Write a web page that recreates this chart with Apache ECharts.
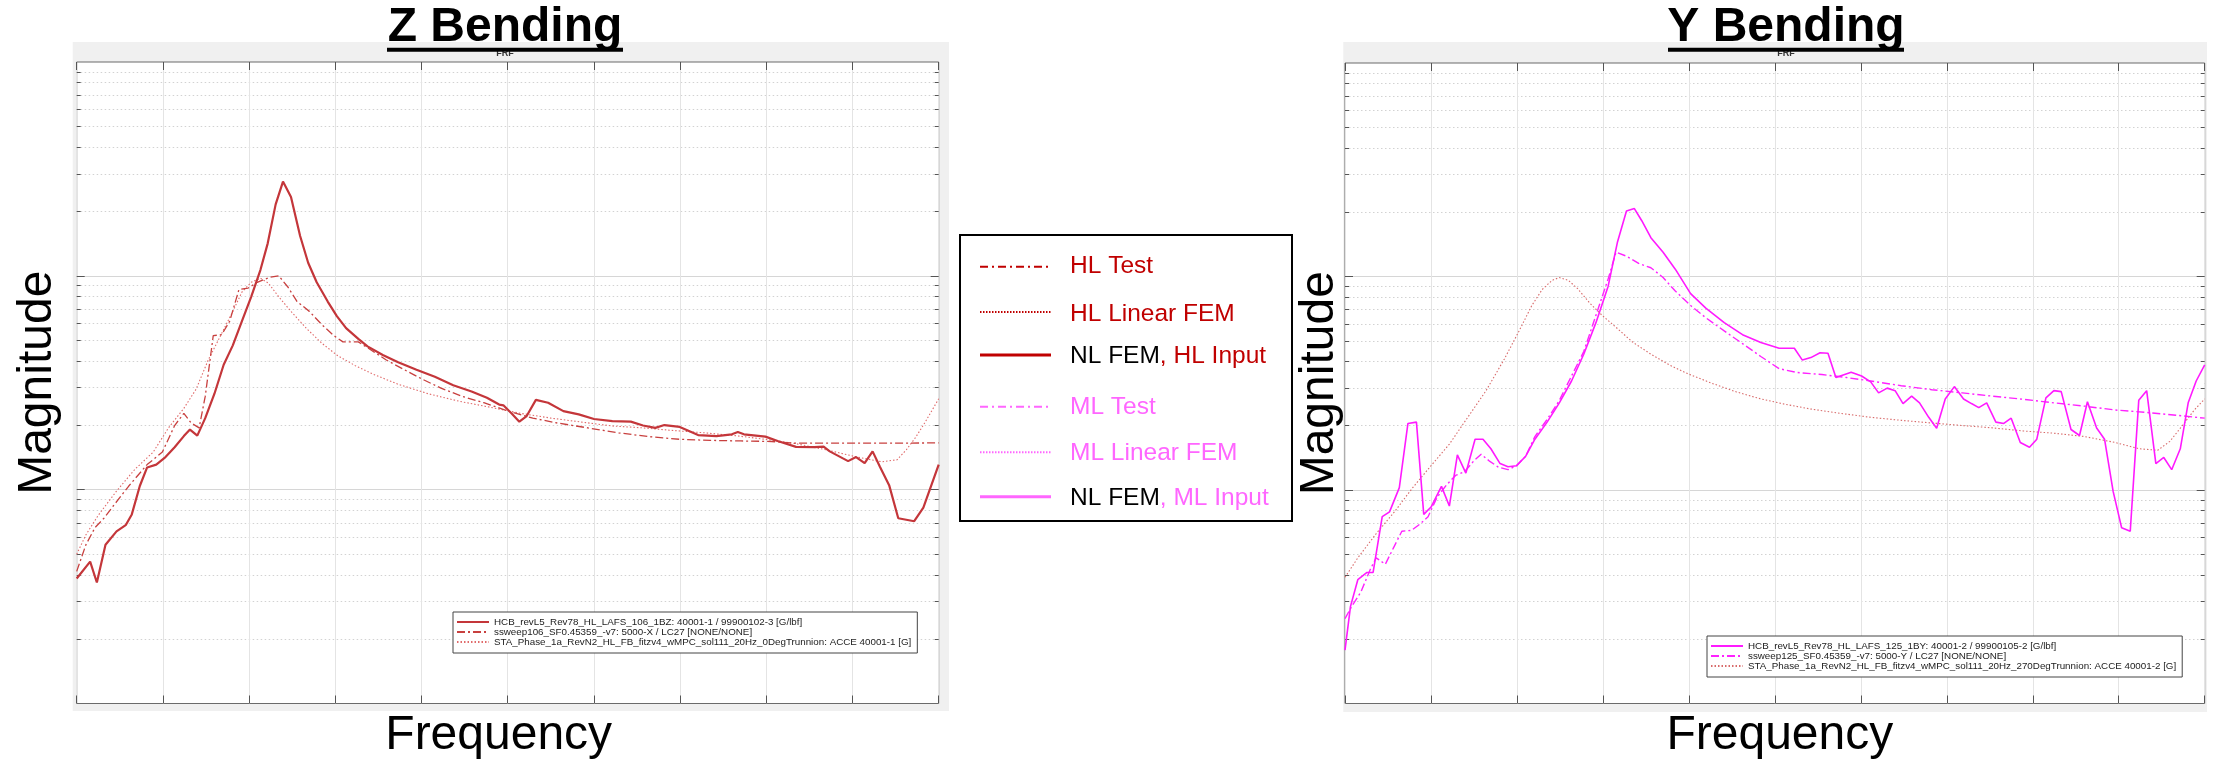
<!DOCTYPE html>
<html>
<head>
<meta charset="utf-8">
<title>Z / Y Bending FRF</title>
<script src="https://cdn.jsdelivr.net/npm/echarts@6/dist/echarts.min.js"></script>
<style>
  html, body { margin: 0; padding: 0; background: #ffffff; }
  #chart { width: 2218px; height: 765px; }
</style>
</head>
<body>
<div id="chart"></div>
<script>
// ---- Text ----
const panelTitles = ['Z Bending', 'Y Bending'];
const panelSubtitle = 'FRF';
const xAxisName = 'Frequency';
const yAxisName = 'Magnitude';

const zSeriesNames = [
  'HCB_revL5_Rev78_HL_LAFS_106_1BZ: 40001-1 / 99900102-3 [G/lbf]',
  'ssweep106_SF0.45359_-v7: 5000-X / LC27 [NONE/NONE]',
  'STA_Phase_1a_RevN2_HL_FB_fitzv4_wMPC_sol111_20Hz_0DegTrunnion: ACCE 40001-1 [G]'
];
const ySeriesNames = [
  'HCB_revL5_Rev78_HL_LAFS_125_1BY: 40001-2 / 99900105-2 [G/lbf]',
  'ssweep125_SF0.45359_-v7: 5000-Y / LC27 [NONE/NONE]',
  'STA_Phase_1a_RevN2_HL_FB_fitzv4_wMPC_sol111_20Hz_270DegTrunnion: ACCE 40001-2 [G]'
];

// shared key between the two panels
const keyLabels = ['HL Test', 'HL Linear FEM', 'HL Input', 'ML Test', 'ML Linear FEM', 'ML Input'];
const keyPrefix = 'NL FEM';

// ---- Axes ----
const freqRange = [0, 100];
const freqStep = 10;
const magRange = [0.01, 10];
const magMajorTicks = [0.1, 1];
const magMinorTicks = [
  0.02, 0.03, 0.04, 0.05, 0.06, 0.07, 0.08, 0.09,
  0.2, 0.3, 0.4, 0.5, 0.6, 0.7, 0.8, 0.9,
  2, 3, 4, 5, 6, 7, 8, 9
];

// ---- Z bending: [frequency, magnitude] ----
const zNlFemHl = [[0,0.0384],[1.56,0.0461],[2.34,0.0368],[3.34,0.0553],[4.62,0.0638],[5.68,0.0682],[6.39,0.0766],[7.32,0.104],[8.17,0.127],[9.23,0.131],[10.3,0.142],[11.36,0.158],[12.43,0.178],[13.14,0.191],[13.99,0.179],[14.91,0.216],[15.98,0.281],[17.05,0.384],[18.11,0.473],[19.18,0.615],[20.24,0.798],[21.31,1.064],[22.16,1.419],[23.08,2.158],[23.93,2.759],[24.86,2.336],[25.92,1.536],[26.85,1.151],[27.84,0.933],[29.12,0.758],[30.18,0.648],[31.25,0.569],[32.67,0.507],[33.74,0.468],[35.51,0.426],[37.29,0.394],[39.42,0.364],[41.55,0.337],[43.68,0.308],[45.81,0.288],[47.59,0.269],[49.01,0.25],[49.5,0.248],[50.43,0.2275],[51.35,0.208],[52.2,0.221],[53.27,0.263],[54.69,0.255],[56.46,0.233],[58.24,0.225],[60.01,0.214],[62.14,0.209],[64.28,0.208],[65.7,0.1995],[67.12,0.1945],[68.18,0.2005],[69.96,0.1965],[72.09,0.18],[74.22,0.178],[76,0.1815],[76.7,0.186],[77.41,0.1815],[79.9,0.177],[81.32,0.169],[83.45,0.1585],[85.58,0.158],[86.65,0.159],[87.36,0.151],[89.49,0.136],[90.41,0.142],[91.41,0.133],[92.33,0.151],[93.18,0.128],[94.25,0.105],[95.31,0.0735],[97.16,0.0712],[98.22,0.0824],[100,0.131]];
const zTestHl = [[0,0.0415],[1.07,0.0553],[2.13,0.0665],[3.2,0.0738],[4.26,0.0841],[6.04,0.104],[8.17,0.131],[9.94,0.15],[11.36,0.1995],[12.43,0.2275],[13.28,0.205],[14.2,0.1945],[14.91,0.273],[15.84,0.525],[16.83,0.531],[17.76,0.615],[18.82,0.863],[19.89,0.877],[20.95,0.933],[22.37,0.984],[23.44,1.0],[24.5,0.887],[25.57,0.758],[26.99,0.682],[28.41,0.593],[29.83,0.525],[30.89,0.491],[32.67,0.491],[33.74,0.461],[35.87,0.405],[38,0.364],[40.13,0.328],[42.26,0.2985],[44.74,0.273],[47.23,0.255],[50.07,0.233],[52.91,0.216],[55.75,0.205],[59.3,0.1945],[62.86,0.1845],[66.41,0.177],[69.96,0.172],[73.51,0.17],[77.06,0.169],[80.61,0.168],[83.45,0.165],[87,0.165],[91,0.165],[95,0.165],[100,0.1655]];
const zLinFemHl = [[0,0.0499],[1.07,0.0615],[2.49,0.0758],[4.62,0.0985],[6.75,0.1245],[8.88,0.15],[10.65,0.1945],[12.43,0.24],[13.85,0.295],[15.27,0.405],[16.69,0.525],[18.11,0.682],[19.18,0.841],[20.24,0.933],[21.31,0.975],[22.23,0.925],[23.44,0.798],[24.86,0.682],[26.63,0.569],[28.41,0.485],[30.18,0.426],[32.32,0.38],[34.45,0.346],[37.29,0.311],[40.84,0.2805],[44.39,0.259],[47.94,0.243],[51.49,0.2275],[55.04,0.216],[58.59,0.207],[62.14,0.1985],[65.7,0.1945],[69.25,0.189],[72.8,0.1845],[76.35,0.179],[79.9,0.172],[83.45,0.164],[87,0.1535],[90.55,0.142],[93.39,0.135],[95.17,0.138],[96.24,0.1535],[97.3,0.175],[98.37,0.205],[100,0.266]];

// ---- Y bending: [frequency, magnitude] ----
const yNlFemMl = [[0,0.0178],[0.64,0.0285],[1.49,0.038],[2.56,0.0411],[3.27,0.0411],[4.33,0.075],[5.18,0.079],[6.32,0.1026],[7.32,0.205],[8.31,0.208],[9.16,0.0769],[10.01,0.0832],[11.22,0.104],[12.14,0.0841],[13.07,0.146],[14.06,0.12],[15.13,0.173],[16.05,0.173],[16.97,0.156],[18.04,0.133],[18.96,0.1285],[19.96,0.13],[21.02,0.144],[22.09,0.173],[23.51,0.208],[24.93,0.256],[26.35,0.324],[27.77,0.4325],[29.19,0.608],[30.61,0.901],[31.68,1.442],[32.74,2.027],[33.66,2.081],[34.52,1.825],[35.58,1.52],[37,1.299],[38.42,1.082],[40.2,0.832],[41.97,0.711],[44.11,0.608],[46.24,0.534],[48.37,0.491],[50.5,0.461],[52.27,0.461],[53.2,0.406],[54.19,0.417],[55.26,0.4395],[56.18,0.437],[57.1,0.3365],[58.88,0.3565],[60.09,0.342],[61.15,0.321],[62.07,0.285],[63.07,0.3],[63.99,0.292],[64.91,0.254],[65.91,0.275],[66.83,0.256],[67.9,0.219],[68.82,0.1945],[69.82,0.267],[70.88,0.305],[71.95,0.267],[72.87,0.254],[73.72,0.243],[74.64,0.256],[75.71,0.208],[76.63,0.205],[77.49,0.217],[78.55,0.167],[79.62,0.1585],[80.47,0.173],[81.53,0.27],[82.46,0.292],[83.31,0.289],[84.45,0.192],[85.44,0.18],[86.36,0.259],[87.43,0.195],[88.35,0.173],[89.35,0.0985],[90.34,0.0665],[91.34,0.0641],[92.33,0.263],[93.25,0.292],[94.32,0.133],[95.24,0.142],[96.16,0.1245],[97.16,0.156],[98.08,0.256],[99.01,0.324],[100,0.3855]];
const yTestMl = [[0,0.025],[0.78,0.0285],[1.85,0.0333],[2.91,0.0422],[3.62,0.0481],[4.69,0.0449],[5.61,0.0533],[6.61,0.0641],[7.74,0.0647],[8.74,0.0693],[9.66,0.075],[10.72,0.0925],[11.79,0.1054],[12.86,0.117],[13.92,0.122],[14.99,0.137],[15.84,0.147],[16.76,0.137],[17.83,0.128],[18.96,0.1245],[19.96,0.13],[21.02,0.144],[22.09,0.178],[23.51,0.214],[24.93,0.263],[26.35,0.342],[27.77,0.445],[29.19,0.658],[30.61,0.975],[31.53,1.299],[32.74,1.245],[34.16,1.151],[35.58,1.099],[37,0.989],[38.42,0.855],[40.2,0.731],[41.97,0.641],[44.11,0.556],[46.24,0.485],[48.37,0.422],[50.5,0.37],[52.63,0.355],[55.47,0.3475],[58.31,0.3365],[61.15,0.324],[64.7,0.308],[68.25,0.295],[71.8,0.285],[75.36,0.275],[78.91,0.266],[82.46,0.256],[86.01,0.247],[89.56,0.237],[93.11,0.231],[96.66,0.224],[100,0.217]];
const yLinFemMl = [[0,0.039],[1.49,0.0481],[3.62,0.0624],[5.75,0.079],[7.88,0.1026],[10.01,0.13],[12.14,0.164],[14.28,0.219],[16.41,0.292],[18.54,0.411],[20.31,0.562],[21.73,0.731],[22.94,0.869],[24.08,0.959],[24.93,0.989],[25.99,0.959],[27.06,0.877],[28.48,0.75],[29.9,0.658],[31.68,0.571],[33.45,0.493],[35.58,0.4325],[37.71,0.3855],[39.84,0.351],[42.68,0.316],[45.53,0.288],[48.37,0.267],[51.21,0.252],[54.05,0.24],[57.6,0.2286],[61.15,0.219],[64.7,0.212],[68.25,0.206],[71.8,0.2005],[75.36,0.1954],[78.91,0.189],[82.46,0.1845],[86.01,0.178],[89.56,0.167],[92.4,0.156],[94.53,0.1535],[95.95,0.169],[97.37,0.1995],[98.79,0.237],[100,0.267]];

// ---- Styling ----
const FONT = "'Liberation Sans', Arial, Helvetica, sans-serif";
const HL_KEY = '#c00000';
const ML_KEY = '#ff66ff';
const DASH_DOT = [8, 3, 2, 3];
const DOTS = [1.5, 2];

const panels = [
  { grid: { left: 76.7, top: 62, width: 862, height: 644 },
    back: { x: 72.7, y: 42, width: 876.3, height: 669 },
    titleX: 505, underline: [387, 623], nameGapY: 15, nameShiftX: -9,
    legendPos: { left: 453, top: 612 } },
  { grid: { left: 1345, top: 63, width: 859.7, height: 644 },
    back: { x: 1343.3, y: 42, width: 863.7, height: 670 },
    titleX: 1786, underline: [1668, 1904], nameGapY: 1, nameShiftX: 5,
    legendPos: { left: 1707, top: 636 } }
];

const xAxes = [];
const yAxes = [];
panels.forEach((p, g) => {
  const xBase = {
    gridIndex: g, type: 'value', min: freqRange[0], max: freqRange[1], interval: freqStep,
    axisLabel: { show: false }, axisLine: { show: false },
    axisTick: { show: true, inside: true, length: 8, lineStyle: { color: '#555', width: 1 } }
  };
  const shift = p.nameShiftX;
  xAxes.push(Object.assign({}, xBase, {
    position: 'bottom',
    splitLine: { show: true, lineStyle: { color: '#e4e4e4', width: 1 } },
    name: xAxisName, nameLocation: 'middle', nameGap: 8.5,
    nameTextStyle: {
      fontSize: 48, color: '#000', fontFamily: FONT,
      padding: shift < 0 ? [0, -2 * shift, 0, 0] : [0, 0, 0, 2 * shift]
    }
  }));
  xAxes.push(Object.assign({}, xBase, { position: 'top', splitLine: { show: false } }));

  const yBase = {
    gridIndex: g, type: 'log', logBase: 10, min: magRange[0], max: magRange[1],
    axisLabel: { show: false }, axisLine: { show: false }
  };
  // left, major decades (solid grid)
  yAxes.push(Object.assign({}, yBase, {
    position: 'left',
    axisTick: { show: true, inside: true, length: 8, customValues: magMajorTicks, lineStyle: { color: '#555' } },
    splitLine: { show: true, lineStyle: { color: '#d6d6d6', width: 1 } },
    name: yAxisName, nameLocation: 'middle', nameRotate: 90, nameGap: p.nameGapY,
    nameTextStyle: { fontSize: 48, color: '#000', fontFamily: FONT }
  }));
  // left, minor ticks (dotted grid)
  yAxes.push(Object.assign({}, yBase, {
    position: 'left',
    axisTick: { show: true, inside: true, length: 4, customValues: magMinorTicks, lineStyle: { color: '#555' } },
    splitLine: { show: true, lineStyle: { color: '#d2d2d2', width: 1, type: [1.5, 2.5] } }
  }));
  // right side ticks
  yAxes.push(Object.assign({}, yBase, {
    position: 'right',
    axisTick: { show: true, inside: true, length: 8, customValues: magMajorTicks, lineStyle: { color: '#555' } },
    splitLine: { show: false }
  }));
  yAxes.push(Object.assign({}, yBase, {
    position: 'right',
    axisTick: { show: true, inside: true, length: 4, customValues: magMinorTicks, lineStyle: { color: '#555' } },
    splitLine: { show: false }
  }));
});

function curve(name, data, g, color, width, type) {
  return {
    name, type: 'line', data, xAxisIndex: g * 2, yAxisIndex: g * 4,
    showSymbol: false, symbol: 'none', silent: true, clip: true,
    lineStyle: { color, width, type }, itemStyle: { color },
    emphasis: { disabled: true }
  };
}

const series = [
  curve(zSeriesNames[2], zLinFemHl, 0, '#e06a6a', 1.1, DOTS),
  curve(zSeriesNames[1], zTestHl, 0, '#c8403f', 1.3, DASH_DOT),
  curve(zSeriesNames[0], zNlFemHl, 0, '#c4363a', 2.2, 'solid'),
  curve(ySeriesNames[2], yLinFemMl, 1, '#d86a6a', 1.1, DOTS),
  curve(ySeriesNames[1], yTestMl, 1, '#ff22ff', 1.4, DASH_DOT),
  curve(ySeriesNames[0], yNlFemMl, 1, '#ff1aff', 1.6, 'solid')
];

const legends = [zSeriesNames, ySeriesNames].map((names, g) => ({
  data: names, orient: 'vertical',
  left: panels[g].legendPos.left, top: panels[g].legendPos.top,
  padding: [5, 6, 6, 3], itemGap: 0, itemWidth: 32, itemHeight: 10,
  selectedMode: false, backgroundColor: '#fff', borderColor: '#444', borderWidth: 1,
  itemStyle: { opacity: 0 },
  textStyle: { fontSize: 9.8, fontFamily: FONT, color: '#222', lineHeight: 10 }
}));

// graphic layer: panel backgrounds, underlined titles, shared key
const graphics = [];
panels.forEach((p, g) => {
  graphics.push({ type: 'rect', z: -10, silent: true, shape: p.back, style: { fill: '#f0f0f0' } });
  graphics.push({ type: 'text', z: 5, silent: true, x: p.titleX, y: 54,
    style: { text: panelSubtitle, fontSize: 9, fontWeight: 'bold', fontFamily: FONT, fill: '#333', align: 'center', verticalAlign: 'middle' } });
  graphics.push({ type: 'text', z: 6, silent: true, x: p.titleX, y: 27.5,
    style: { text: panelTitles[g], fontSize: 48, fontWeight: 'bold', fontFamily: FONT, fill: '#000', align: 'center', verticalAlign: 'middle' } });
  graphics.push({ type: 'rect', z: 6, silent: true,
    shape: { x: p.underline[0], y: 47.7, width: p.underline[1] - p.underline[0], height: 4 }, style: { fill: '#000' } });
});

const keyRows = [
  { text: keyLabels[0], color: HL_KEY, dash: [8, 4, 2, 4], width: 2, y: 266.7, ly: 266.7, prefix: false },
  { text: keyLabels[1], color: HL_KEY, dash: [1.5, 1.5], width: 2, y: 314, ly: 312, prefix: false },
  { text: keyLabels[2], color: HL_KEY, dash: null, width: 3, y: 356.7, ly: 355, prefix: true },
  { text: keyLabels[3], color: ML_KEY, dash: [8, 4, 2, 4], width: 2, y: 407.7, ly: 406.7, prefix: false },
  { text: keyLabels[4], color: ML_KEY, dash: [1.5, 1.5], width: 2, y: 453, ly: 452.3, prefix: false },
  { text: keyLabels[5], color: ML_KEY, dash: null, width: 3, y: 498, ly: 496.7, prefix: true }
];
graphics.push({ type: 'rect', z: 5, silent: true, shape: { x: 960, y: 235, width: 332, height: 286 },
  style: { fill: '#fff', stroke: '#000', lineWidth: 2 } });
keyRows.forEach(r => {
  graphics.push({ type: 'line', z: 6, silent: true, shape: { x1: 980, y1: r.ly, x2: 1051, y2: r.ly },
    style: { stroke: r.color, lineWidth: r.width, lineDash: r.dash || null } });
  graphics.push({ type: 'text', z: 6, silent: true, x: 1070, y: r.y,
    style: {
      text: r.prefix ? '{k|' + keyPrefix + '}{c|, ' + r.text + '}' : '{c|' + r.text + '}',
      verticalAlign: 'middle', align: 'left',
      rich: {
        k: { fontSize: 24.5, fontFamily: FONT, fill: '#000', color: '#000' },
        c: { fontSize: 24.5, fontFamily: FONT, fill: r.color, color: r.color }
      }
    } });
});

const chart = echarts.init(document.getElementById('chart'), null, { renderer: 'canvas' });
chart.setOption({
  animation: false,
  backgroundColor: '#ffffff',
  grid: panels.map(p => Object.assign({ show: true, backgroundColor: '#ffffff', borderColor: '#6b6b6b', borderWidth: 1, containLabel: false }, p.grid)),
  xAxis: xAxes,
  yAxis: yAxes,
  legend: legends,
  series: series,
  graphic: { elements: graphics }
});
</script>
</body>
</html>
